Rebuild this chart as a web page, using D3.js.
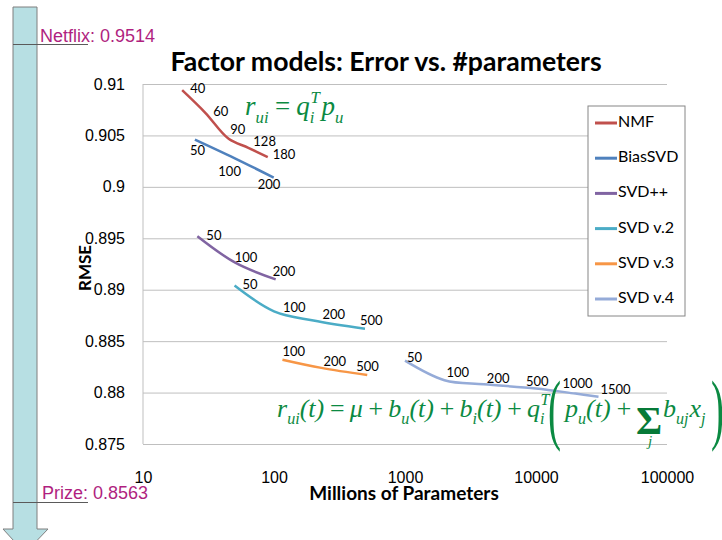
<!DOCTYPE html>
<html lang="en">
<head>
<meta charset="UTF-8">
<title>Factor models: Error vs. #parameters</title>
<script src="https://cdn.jsdelivr.net/npm/d3@7"></script>
<style>
  body { margin: 0; background: #fff; }
</style>
</head>
<body>
<script>
// ---- data ----
var seriesNames = ['NMF', 'BiasSVD', 'SVD++', 'SVD v.2', 'SVD v.3', 'SVD v.4']
var factors = [
    [40, 60, 90, 128, 180],
    [50, 100, 200],
    [50, 100, 200],
    [50, 100, 200, 500],
    [100, 200, 500],
    [50, 100, 200, 500, 1000, 1500]
]
// millions of parameters (x)
var params = [
    [19.9, 29.9, 44.8, 63.7, 89.6],
    [24.9, 49.8, 99.5],
    [26, 51, 103],
    [50, 100, 200, 495],
    [116, 230, 515],
    [1000, 2000, 4000, 10000, 20000, 30000]
]
// RMSE (y)
var rmse = [
    [0.9094, 0.9072, 0.9047, 0.9038, 0.9029],
    [0.9046, 0.9028, 0.9009],
    [0.8952, 0.8926, 0.8910],
    [0.8904, 0.8879, 0.8870, 0.8862],
    [0.8832, 0.8824, 0.8817],
    [0.8831, 0.8812, 0.8808, 0.8804, 0.8799, 0.8796]
]
var xTicks = [10, 100, 1000, 10000, 100000]
var yTicks = [0.875, 0.88, 0.885, 0.89, 0.895, 0.9, 0.905, 0.91]
var netflixLabel = 'Netflix: 0.9514'
var prizeLabel = 'Prize: 0.8563'

// ---- styling ----
var width = 722, height = 540
var plot = { left: 143, right: 667, top: 84, bottom: 444 }
var colors = ['#c0504d', '#4f81bd', '#8064a2', '#4bacc6', '#f79646', '#95abd8']
// where each data label sits relative to its point (label left edge, label middle)
var labelNudge = [
    [[8, 0], [8, 0], [2, -8], [5, -5], [5, -1]],
    [[-5, 12], [-16, 15], [-16, 8]],
    [[9, 0], [-1, -4], [-3, -7]],
    [[8, 0], [9, -3], [9, -5], [-5, -7]],
    [[0, -7], [2, -5], [-11, -7]],
    [[2, -2], [2, -7], [3, -5], [-10, -6], [-13, -9], [2, -6]]
]
var green = '#0b8a42'
var magenta = '#b01f80'
var sans = 'Lato, "Open Sans", sans-serif'
var arial = '"Liberation Sans", Arial, sans-serif'
var serif = '"Liberation Serif", "DejaVu Serif", serif'

var svg = d3.select('body').append('svg')
    .attr('width', width)
    .attr('height', height)

var x = d3.scaleLog().domain([10, 100000]).range([plot.left, plot.right])
var y = d3.scaleLinear().domain([0.875, 0.91]).range([plot.bottom, plot.top])

// gridlines
var grid = svg.append('g')
    .attr('transform', 'translate(' + plot.left + ',0)')
    .call(d3.axisLeft(y).tickValues(yTicks).tickSize(-(plot.right - plot.left)).tickFormat(''))
grid.select('.domain').remove()
grid.selectAll('line').attr('stroke', '#bfbfbf')
svg.append('line')
    .attr('x1', plot.left).attr('x2', plot.left)
    .attr('y1', plot.top).attr('y2', plot.bottom)
    .attr('stroke', '#bfbfbf')

// axes labels
var yAxis = svg.append('g')
    .attr('transform', 'translate(' + plot.left + ',0)')
    .call(d3.axisLeft(y).tickValues(yTicks).tickSize(0).tickPadding(18).tickFormat(d3.format('~g')))
yAxis.select('.domain').remove()
yAxis.selectAll('text').style('font-family', arial).style('font-size', '16px').attr('fill', '#000')

var xAxis = svg.append('g')
    .attr('transform', 'translate(0,' + plot.bottom + ')')
    .call(d3.axisBottom(x).tickValues(xTicks).tickSize(0).tickPadding(28).tickFormat(d3.format('d')))
xAxis.select('.domain').remove()
xAxis.selectAll('text').style('font-family', arial).style('font-size', '16px').attr('fill', '#000')

svg.append('text')
    .attr('x', 404).attr('y', 500)
    .attr('text-anchor', 'middle')
    .style('font-family', sans).style('font-size', '19px').style('font-weight', 'bold')
    .text('Millions of Parameters')

svg.append('text')
    .attr('transform', 'translate(91,268) rotate(-90)')
    .attr('text-anchor', 'middle')
    .style('font-family', sans).style('font-size', '17px').style('font-weight', 'bold')
    .text('RMSE')

svg.append('text')
    .attr('x', 386).attr('y', 71)
    .attr('text-anchor', 'middle')
    .style('font-family', sans).style('font-size', '26.6px').style('font-weight', 'bold')
    .text('Factor models: Error vs. #parameters')

// series
var line = d3.line()
    .x(d => x(d[0]))
    .y(d => y(d[1]))
    .curve(d3.curveCatmullRom.alpha(0.5))

seriesNames.forEach(function (name, s) {
    var pts = params[s].map((p, i) => [p, rmse[s][i], factors[s][i], labelNudge[s][i]])
    var g = svg.append('g')
    g.append('path')
        .datum(pts)
        .attr('d', line)
        .attr('fill', 'none')
        .attr('stroke', colors[s])
        .attr('stroke-width', 2.5)
    g.selectAll('text')
        .data(pts)
        .enter()
        .append('text')
        .attr('x', d => x(d[0]) + d[3][0])
        .attr('y', d => y(d[1]) + d[3][1])
        .attr('dominant-baseline', 'middle')
        .style('font-family', sans).style('font-size', '13px')
        .text(d => d[2])
})

// legend
var legend = svg.append('g').attr('transform', 'translate(588,106)')
legend.append('rect')
    .attr('width', 97).attr('height', 210)
    .attr('fill', '#fff').attr('stroke', '#868686')
var items = legend.selectAll('g.item')
    .data(seriesNames)
    .enter()
    .append('g')
    .attr('transform', (d, i) => 'translate(0,' + (17 + i * 35.2) + ')')
items.append('line')
    .attr('x1', 7).attr('x2', 29)
    .attr('stroke', (d, i) => colors[i])
    .attr('stroke-width', 3)
items.append('text')
    .attr('x', 30)
    .attr('dominant-baseline', 'middle')
    .style('font-family', sans).style('font-size', '16px')
    .text(d => d)

// formulas
function mathText(x0, y0, size, parts, wordSpacing) {
    var t = svg.append('text')
        .attr('x', x0).attr('y', y0)
        .attr('fill', green)
        .style('font-family', serif).style('font-style', 'italic')
        .style('font-size', size + 'px')
        .style('word-spacing', (wordSpacing || 0) + 'px')
    var cur = 0
    parts.forEach(function (p) {
        var target = p[1] === 'sub' ? size * 0.28 : p[1] === 'sup' ? -size * 0.45 : 0
        var ts = t.append('tspan')
            .attr('dy', target - cur)
            .style('font-size', p[1] ? (size * 0.62) + 'px' : null)
            .text(p[0])
        if (p[2]) ts.attr('dx', p[2])
        cur = target
    })
    return t
}

mathText(245, 115, 27, [['r'], ['ui', 'sub'], [' = '], ['q'], ['i', 'sub'], ['T', 'sup', -4], [' p', null, -3], ['u', 'sub']], -2)

mathText(277, 417, 26, [['r'], ['ui', 'sub'], ['(t) = \u03bc + b'], ['u', 'sub'], ['(t) + b'], ['i', 'sub'],
    ['(t) + q'], ['i', 'sub'], ['T', 'sup', -4]], -2.5)
mathText(565, 417, 26, [['p'], ['u', 'sub'], ['(t) +']], -2)
mathText(663, 417, 26, [['b'], ['uj', 'sub'], ['x', null, 1], ['j', 'sub']])
svg.append('text')
    .attr('x', 636).attr('y', 434)
    .attr('fill', '#067a38')
    .style('font-family', serif).style('font-size', '40px').style('font-weight', 'bold')
    .text('\u03a3')
svg.append('text')
    .attr('x', 648).attr('y', 446)
    .attr('fill', green)
    .style('font-family', serif).style('font-style', 'italic').style('font-size', '15px')
    .text('j')
svg.append('text')
    .attr('transform', 'translate(548,435) scale(0.5,1)')
    .attr('fill', green)
    .style('font-family', serif).style('font-size', '78px')
    .text('(')
svg.append('text')
    .attr('transform', 'translate(711,435) scale(0.5,1)')
    .attr('fill', green)
    .style('font-family', serif).style('font-size', '78px')
    .text(')')

// arrow on the left
svg.append('polygon')
    .attr('points', [[13, 7], [37, 7], [37, 529], [48, 529], [25, 553], [3, 529], [13, 529]].join(' '))
    .attr('fill', '#b7dfe3')
    .attr('stroke', '#7f7f7f')
    .attr('stroke-width', 1)

svg.append('line').attr('x1', 13).attr('x2', 88).attr('y1', 44.5).attr('y2', 44.5).attr('stroke', '#5a5a5a')
svg.append('line').attr('x1', 13).attr('x2', 88).attr('y1', 502.5).attr('y2', 502.5).attr('stroke', '#5a5a5a')

svg.append('text')
    .attr('x', 40).attr('y', 42)
    .attr('fill', magenta)
    .style('font-family', arial).style('font-size', '18px')
    .text(netflixLabel)
svg.append('text')
    .attr('x', 42).attr('y', 499)
    .attr('fill', magenta)
    .style('font-family', arial).style('font-size', '18px')
    .text(prizeLabel)
</script>
</body>
</html>
